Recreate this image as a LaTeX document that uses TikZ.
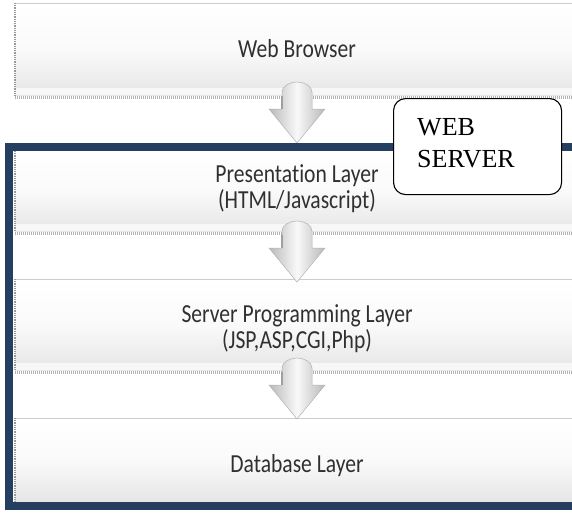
\documentclass[tikz,border=0pt]{standalone}
\usepackage{fontspec}
\newfontfamily\layerfont[FakeStretch=0.83,RawFeature={-liga;-dlig}]{Carlito}
\newfontfamily\wsfont{Liberation Serif}
\definecolor{navy}{HTML}{243F60}
\definecolor{txtgray}{HTML}{303030}
\tikzset{
  layerbox/.style={rectangle, draw=none, inner sep=0pt, anchor=north west,
    minimum width=557pt, top color=white, bottom color=gray!20, middle color=white!96!gray},
  topedge/.style={draw=gray!40, line width=0.8pt},
  leftedge/.style={draw=gray!80, line width=2.5pt, dash pattern=on 1pt off 0.8pt},
  shadowline/.style={draw=gray!60, line width=3pt, dash pattern=on 1pt off 1pt},
  bevel/.style={fill=white!94!gray},
  layertext/.style={inner sep=0pt, anchor=base, text=txtgray,
    font=\layerfont\fontsize{26}{30}\selectfont},
  callout/.style={rectangle, rounded corners=12pt, draw=black, line width=1.1pt,
    fill=white, anchor=north west, inner sep=0pt},
  wstext/.style={inner sep=0pt, anchor=base west, text=black,
    font=\wsfont\fontsize{26}{30}\selectfont},
  frame/.style={draw=navy, line width=8pt},
  downarrow/.pic={
    \path[left color=gray!55, right color=gray!55, middle color=gray!5,
          draw=gray!60, line width=0.5pt]
      (-15,10) .. controls (-15,4) and (-7,0) .. (0,0)
      .. controls (7,0) and (15,4) .. (15,10) -- (15,27) -- (28,27)
      -- (0,61) -- (-28,27) -- (-15,27) -- cycle;
    \draw[gray!75, line width=1.2pt] (-15,14) -- (-15,27);
  }
}
\begin{document}
\begin{tikzpicture}[x=1pt,y=-1pt]
\useasboundingbox (0,0) rectangle (572,512);
\clip (0,0) rectangle (572,512);
\fill[white] (0,0) rectangle (572,512);

% Web Browser layer
\node[layerbox, minimum height=92pt] (web) at (15,3) {};
\fill[bevel] ([yshift=7pt]web.south west) rectangle (web.south east);
\draw[topedge] (web.north west) -- (web.north east);
\draw[leftedge] (web.north west) -- (web.south west);
\draw[shadowline] ([yshift=-2pt]web.south west) -- ([yshift=-2pt]web.south east);
\node[layertext] (webt) at (297,57) {Web Browser};

% Presentation layer
\node[layerbox, minimum height=80pt] (pres) at (15,151) {};
\fill[bevel] ([yshift=7pt]pres.south west) rectangle (pres.south east);
\draw[leftedge] (pres.north west) -- (pres.south west);
\draw[shadowline] ([yshift=-2.5pt]pres.south west) -- ([yshift=-2.5pt]pres.south east);
\node[layertext] (prest1) at (297,182) {Presentation Layer};
\node[layertext] (prest2) at (297,208) {(HTML/Javascript)};

% Server programming layer
\node[layerbox, minimum height=91pt] (serv) at (15,279) {};
\fill[bevel] ([yshift=7pt]serv.south west) rectangle (serv.south east);
\draw[topedge] (serv.north west) -- (serv.north east);
\draw[leftedge] (serv.north west) -- (serv.south west);
\draw[shadowline] ([yshift=-2.5pt]serv.south west) -- ([yshift=-2.5pt]serv.south east);
\node[layertext] (servt1) at (297,322) {Server Programming Layer};
\node[layertext] (servt2) at (297,348) {(JSP,ASP,CGI,Php)};

% Database layer
\node[layerbox, minimum height=84pt] (db) at (15,418) {};
\draw[topedge] (db.north west) -- (db.north east);
\draw[leftedge] (db.north west) -- (db.south west);
\node[layertext] (dbt) at (297,472) {Database Layer};

% Arrows between layers
\coordinate (a1) at (297,82);
\coordinate (a2) at (297,221);
\coordinate (a3) at (297,358);
\pic (arr1) at (a1) {downarrow};
\pic (arr2) at (a2) {downarrow};
\pic (arr3) at (a3) {downarrow};

% Web server frame
\draw[frame] (9,147) rectangle (576,506);

% Callout
\node[callout, minimum width=168pt, minimum height=96pt] (ws) at (393,98) {};
\node[wstext] (ws1) at (417,135) {WEB};
\node[wstext] (ws2) at (417,167) {SERVER};
\end{tikzpicture}
\end{document}
